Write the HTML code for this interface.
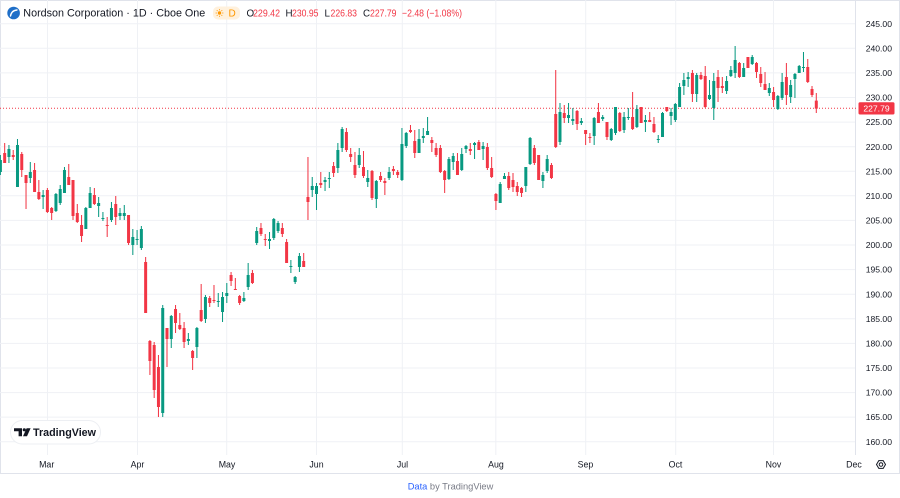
<!DOCTYPE html>
<html><head><meta charset="utf-8">
<style>
html,body{margin:0;padding:0;background:#fff;}
svg{display:block;font-family:"Liberation Sans",sans-serif;}
</style></head>
<body>
<svg width="900" height="498" viewBox="0 0 900 498" xmlns="http://www.w3.org/2000/svg">
<rect x="0" y="0" width="900" height="498" fill="#fff"/>
<!-- frame -->
<rect x="0.5" y="0.5" width="899" height="473" fill="none" stroke="#E0E3EB" stroke-width="1"/>
<!-- grid -->
<g stroke="#EFF1F5" stroke-width="1" fill="none">
<path d="M0 23.7H855M0 48.3H855M0 72.9H855M0 97.5H855M0 122.1H855M0 146.7H855M0 171.2H855M0 195.8H855M0 220.4H855M0 245H855M0 269.6H855M0 294.2H855M0 318.8H855M0 343.4H855M0 368H855M0 392.6H855M0 417.1H855M0 441.7H855"/>
<path d="M47.5 0V455M137.5 0V455M226.7 0V455M316.5 0V455M402.3 0V455M495.8 0V455M585.7 0V455M675.7 0V455M773.5 0V455"/>
</g>
<line x1="855.5" y1="0" x2="855.5" y2="455" stroke="#E0E3EB" stroke-width="1"/>

<!-- last price dotted line -->
<line x1="0" y1="108.3" x2="856" y2="108.3" stroke="#F23645" stroke-width="1" stroke-dasharray="1,2"/>

<!-- candles -->
<g transform="translate(0.4,0) scale(4.2717,1)">
<path fill="#089981" d="M-.35 160h.7V172h-.7zM-.12 155h.24V175h-.24zM1.65 149h.7V157h-.7zM1.88 145h.24V163h-.24zM3.65 145h.7V187h-.7zM3.88 139h.24V187h-.24zM6.65 172h.7V178h-.7zM6.88 162h.24V183h-.24zM9.65 195h.7V197h-.7zM9.88 190h.24V209h-.24zM12.65 194h.7V211h-.7zM12.88 193h.24V212h-.24zM13.65 189h.7V203h-.7zM13.88 185h.24V205h-.24zM14.65 170h.7V193h-.7zM14.88 167h.24V193h-.24zM19.65 208h.7V229h-.7zM19.88 207h.24V229h-.24zM20.65 193h.7V208h-.7zM20.88 187h.24V208h-.24zM22.65 203h.7V206h-.7zM22.88 197h.24V217h-.24zM23.65 218h.7V219h-.7zM23.88 212h.24V221h-.24zM25.65 208h.7V220h-.7zM25.88 202h.24V222h-.24zM27.65 213h.7V216h-.7zM27.88 208h.24V220h-.24zM28.65 213h.7V216h-.7zM28.88 205h.24V220h-.24zM30.65 237h.7V245h-.7zM30.88 229h.24V255h-.24zM31.65 239h.7V240h-.7zM31.88 230h.24V245h-.24zM32.65 229h.7V248h-.7zM32.88 226h.24V250h-.24zM37.65 308h.7V413h-.7zM37.88 305h.24V417h-.24zM39.65 316h.7V339h-.7zM39.88 315h.24V348h-.24zM43.65 339h.7V341h-.7zM43.88 333h.24V345h-.24zM45.65 328h.7V347h-.7zM45.88 327h.24V358h-.24zM47.65 297h.7V319h-.7zM47.88 295h.24V323h-.24zM50.65 301h.7V302h-.7zM50.88 293h.24V307h-.24zM51.65 297h.7V312h-.7zM51.88 292h.24V322h-.24zM52.65 293h.7V296h-.7zM52.88 283h.24V303h-.24zM56.65 298h.7V301h-.7zM56.88 292h.24V302h-.24zM57.65 275h.7V287h-.7zM57.88 263h.24V290h-.24zM59.65 231h.7V243h-.7zM59.88 227h.24V245h-.24zM62.65 239h.7V241h-.7zM62.88 232h.24V249h-.24zM63.65 219h.7V238h-.7zM63.88 218h.24V240h-.24zM64.65 223h.7V231h-.7zM64.88 221h.24V233h-.24zM67.65 266h.7V267h-.7zM67.88 260h.24V273h-.24zM68.65 277h.7V282h-.7zM68.88 276h.24V284h-.24zM69.65 256h.7V267h-.7zM69.88 253h.24V272h-.24zM72.65 186h.7V190h-.7zM72.88 177h.24V197h-.24zM73.65 186h.7V194h-.7zM73.88 183h.24V210h-.24zM75.65 180h.7V182h-.7zM75.88 177h.24V191h-.24zM76.65 178h.7V179h-.7zM76.88 172h.24V188h-.24zM78.65 150h.7V168h-.7zM78.88 143h.24V173h-.24zM79.65 129h.7V148h-.7zM79.88 127h.24V152h-.24zM83.65 155h.7V165h-.7zM83.88 148h.24V168h-.24zM85.65 178h.7V182h-.7zM85.88 170h.24V187h-.24zM87.65 181h.7V199h-.7zM87.88 180h.24V208h-.24zM90.65 172h.7V178h-.7zM90.88 167h.24V180h-.24zM93.65 144h.7V180h-.7zM93.88 128h.24V181h-.24zM94.65 133h.7V146h-.7zM94.88 132h.24V148h-.24zM97.65 139h.7V153h-.7zM97.88 129h.24V153h-.24zM98.65 136h.7V138h-.7zM98.88 128h.24V143h-.24zM99.65 131h.7V135h-.7zM99.88 117h.24V135h-.24zM104.65 159h.7V179h-.7zM104.88 157h.24V180h-.24zM105.65 156h.7V162h-.7zM105.88 153h.24V170h-.24zM107.65 154h.7V170h-.7zM107.88 148h.24V171h-.24zM108.65 146h.7V149h-.7zM108.88 145h.24V153h-.24zM110.65 143h.7V145h-.7zM110.88 142h.24V159h-.24zM112.65 146h.7V149h-.7zM112.88 142h.24V160h-.24zM116.65 184h.7V203h-.7zM116.88 182h.24V203h-.24zM117.65 176h.7V179h-.7zM117.88 173h.24V179h-.24zM122.65 167h.7V186h-.7zM122.88 167h.24V192h-.24zM123.65 138h.7V164h-.7zM123.88 137h.24V165h-.24zM126.65 175h.7V181h-.7zM126.88 172h.24V188h-.24zM127.65 159h.7V171h-.7zM127.88 155h.24V173h-.24zM130.65 112h.7V142h-.7zM130.88 103h.24V145h-.24zM132.65 115h.7V118h-.7zM132.88 103h.24V123h-.24zM133.65 119h.7V121h-.7zM133.88 108h.24V125h-.24zM135.65 121h.7V123h-.7zM135.88 118h.24V125h-.24zM138.65 118h.7V136h-.7zM138.88 117h.24V145h-.24zM140.65 117h.7V119h-.7zM140.88 115h.24V121h-.24zM142.65 129h.7V140h-.7zM142.88 128h.24V141h-.24zM143.65 107h.7V133h-.7zM143.88 107h.24V135h-.24zM145.65 117h.7V130h-.7zM145.88 112h.24V133h-.24zM146.65 117h.7V118h-.7zM146.88 108h.24V120h-.24zM148.65 109h.7V127h-.7zM148.88 105h.24V128h-.24zM150.65 120h.7V122h-.7zM150.88 115h.24V132h-.24zM153.65 139h.7V140h-.7zM153.88 135h.24V143h-.24zM154.65 113h.7V137h-.7zM154.88 112h.24V137h-.24zM156.65 112h.7V116h-.7zM156.88 108h.24V125h-.24zM157.65 104h.7V120h-.7zM157.88 103h.24V122h-.24zM158.65 87h.7V107h-.7zM158.88 83h.24V107h-.24zM159.65 80h.7V86h-.7zM159.88 73h.24V95h-.24zM160.65 77h.7V79h-.7zM160.88 72h.24V87h-.24zM162.65 75h.7V94h-.7zM162.88 73h.24V102h-.24zM165.65 95h.7V99h-.7zM165.88 80h.24V100h-.24zM166.65 81h.7V108h-.7zM166.88 73h.24V120h-.24zM169.65 81h.7V91h-.7zM169.88 76h.24V94h-.24zM170.65 70h.7V76h-.7zM170.88 66h.24V77h-.24zM171.65 60h.7V73h-.7zM171.88 46h.24V78h-.24zM173.65 68h.7V77h-.7zM173.88 63h.24V77h-.24zM175.65 57h.7V64h-.7zM175.88 55h.24V65h-.24zM179.65 88h.7V93h-.7zM179.88 83h.24V96h-.24zM181.65 96h.7V109h-.7zM181.88 95h.24V110h-.24zM182.65 82h.7V98h-.7zM182.88 73h.24V100h-.24zM184.65 85h.7V97h-.7zM184.88 80h.24V103h-.24zM185.65 74h.7V79h-.7zM185.88 73h.24V98h-.24zM186.65 66h.7V73h-.7zM186.88 65h.24V73h-.24zM187.65 67h.7V68h-.7zM187.88 52h.24V72h-.24z"/>
<path fill="#F23645" d="M.65 153h.7V163h-.7zM.88 143h.24V163h-.24zM2.65 155h.7V157h-.7zM2.88 150h.24V160h-.24zM4.65 154h.7V170h-.7zM4.88 152h.24V177h-.24zM5.65 175h.7V183h-.7zM5.88 175h.24V209h-.24zM7.65 170h.7V192h-.7zM7.88 163h.24V192h-.24zM8.65 192h.7V199h-.7zM8.88 180h.24V200h-.24zM10.65 190h.7V212h-.7zM10.88 188h.24V213h-.24zM11.65 208h.7V213h-.7zM11.88 207h.24V220h-.24zM15.65 177h.7V185h-.7zM15.88 164h.24V185h-.24zM16.65 180h.7V216h-.7zM16.88 180h.24V220h-.24zM17.65 213h.7V222h-.7zM17.88 204h.24V223h-.24zM18.65 225h.7V236h-.7zM18.88 215h.24V242h-.24zM21.65 195h.7V204h-.7zM21.88 188h.24V205h-.24zM24.65 225h.7V226h-.7zM24.88 217h.24V237h-.24zM26.65 204h.7V217h-.7zM26.88 196h.24V225h-.24zM29.65 215h.7V243h-.7zM29.88 215h.24V245h-.24zM33.65 262h.7V313h-.7zM33.88 257h.24V313h-.24zM34.65 341h.7V361h-.7zM34.88 340h.24V375h-.24zM35.65 345h.7V390h-.7zM35.88 342h.24V398h-.24zM36.65 367h.7V407h-.7zM36.88 355h.24V417h-.24zM38.65 328h.7V339h-.7zM38.88 328h.24V367h-.24zM40.65 309h.7V323h-.7zM40.88 305h.24V333h-.24zM41.65 325h.7V329h-.7zM41.88 313h.24V330h-.24zM42.65 328h.7V342h-.7zM42.88 322h.24V348h-.24zM44.65 351h.7V358h-.7zM44.88 350h.24V370h-.24zM46.65 310h.7V321h-.7zM46.88 284h.24V322h-.24zM48.65 298h.7V303h-.7zM48.88 296h.24V307h-.24zM49.65 300h.7V301h-.7zM49.88 285h.24V303h-.24zM53.65 275h.7V281h-.7zM53.88 272h.24V286h-.24zM54.65 289h.7V290h-.7zM54.88 278h.24V290h-.24zM55.65 296h.7V303h-.7zM55.88 295h.24V305h-.24zM58.65 273h.7V283h-.7zM58.88 270h.24V284h-.24zM60.65 228h.7V234h-.7zM60.88 223h.24V236h-.24zM61.65 239h.7V240h-.7zM61.88 234h.24V246h-.24zM65.65 228h.7V234h-.7zM65.88 223h.24V237h-.24zM66.65 242h.7V263h-.7zM66.88 239h.24V263h-.24zM70.65 261h.7V267h-.7zM70.88 253h.24V267h-.24zM71.65 197h.7V202h-.7zM71.88 157h.24V220h-.24zM74.65 183h.7V185h-.7zM74.88 172h.24V188h-.24zM77.65 166h.7V173h-.7zM77.88 162h.24V177h-.24zM80.65 132h.7V150h-.7zM80.88 128h.24V152h-.24zM81.65 154h.7V157h-.7zM81.88 148h.24V162h-.24zM82.65 165h.7V175h-.7zM82.88 152h.24V178h-.24zM84.65 167h.7V176h-.7zM84.88 151h.24V178h-.24zM86.65 171h.7V198h-.7zM86.88 170h.24V200h-.24zM88.65 176h.7V180h-.7zM88.88 172h.24V182h-.24zM89.65 181h.7V183h-.7zM89.88 178h.24V195h-.24zM91.65 169h.7V171h-.7zM91.88 166h.24V175h-.24zM92.65 172h.7V175h-.7zM92.88 170h.24V178h-.24zM95.65 130h.7V132h-.7zM95.88 125h.24V133h-.24zM96.65 141h.7V153h-.7zM96.88 130h.24V158h-.24zM100.65 140h.7V143h-.7zM100.88 137h.24V152h-.24zM101.65 148h.7V155h-.7zM101.88 143h.24V157h-.24zM102.65 148h.7V172h-.7zM102.88 145h.24V173h-.24zM103.65 171h.7V180h-.7zM103.88 170h.24V193h-.24zM106.65 161h.7V175h-.7zM106.88 153h.24V175h-.24zM109.65 149h.7V151h-.7zM109.88 143h.24V155h-.24zM111.65 142h.7V150h-.7zM111.88 140h.24V150h-.24zM113.65 147h.7V168h-.7zM113.88 143h.24V170h-.24zM114.65 168h.7V177h-.7zM114.88 157h.24V178h-.24zM115.65 194h.7V201h-.7zM115.88 193h.24V210h-.24zM118.65 176h.7V188h-.7zM118.88 172h.24V190h-.24zM119.65 180h.7V187h-.7zM119.88 173h.24V192h-.24zM120.65 186h.7V192h-.7zM120.88 182h.24V196h-.24zM121.65 188h.7V193h-.7zM121.88 187h.24V197h-.24zM124.65 148h.7V163h-.7zM124.88 145h.24V165h-.24zM125.65 155h.7V180h-.7zM125.88 155h.24V180h-.24zM128.65 165h.7V178h-.7zM128.88 163h.24V179h-.24zM129.65 114h.7V147h-.7zM129.88 70h.24V148h-.24zM131.65 113h.7V118h-.7zM131.88 105h.24V123h-.24zM134.65 111h.7V124h-.7zM134.88 110h.24V130h-.24zM136.65 130h.7V134h-.7zM136.88 130h.24V145h-.24zM137.65 137h.7V138h-.7zM137.88 133h.24V143h-.24zM139.65 112h.7V123h-.7zM139.88 103h.24V123h-.24zM141.65 122h.7V137h-.7zM141.88 122h.24V140h-.24zM144.65 113h.7V131h-.7zM144.88 112h.24V132h-.24zM147.65 117h.7V129h-.7zM147.88 92h.24V130h-.24zM149.65 107h.7V123h-.7zM149.88 107h.24V123h-.24zM151.65 120h.7V122h-.7zM151.88 112h.24V122h-.24zM152.65 124h.7V132h-.7zM152.88 117h.24V133h-.24zM155.65 107h.7V111h-.7zM155.88 107h.24V112h-.24zM161.65 73h.7V94h-.7zM161.88 70h.24V102h-.24zM163.65 75h.7V79h-.7zM163.88 72h.24V80h-.24zM164.65 76h.7V107h-.7zM164.88 66h.24V108h-.24zM167.65 77h.7V88h-.7zM167.88 70h.24V102h-.24zM168.65 86h.7V88h-.7zM168.88 77h.24V93h-.24zM172.65 63h.7V77h-.7zM172.88 62h.24V78h-.24zM174.65 57h.7V68h-.7zM174.88 57h.24V68h-.24zM176.65 63h.7V72h-.7zM176.88 62h.24V78h-.24zM177.65 74h.7V83h-.7zM177.88 67h.24V87h-.24zM178.65 84h.7V90h-.7zM178.88 72h.24V90h-.24zM180.65 92h.7V100h-.7zM180.88 87h.24V107h-.24zM183.65 77h.7V95h-.7zM183.88 63h.24V105h-.24zM188.65 67h.7V82h-.7zM188.88 59h.24V83h-.24zM189.65 89h.7V95h-.7zM189.88 86h.24V97h-.24zM190.65 100.6h.7V108.6h-.7zM190.88 93h.24V113h-.24z"/>
</g>

<!-- price axis labels -->
<g font-size="8.6" fill="#131722" text-anchor="end">
<text x="892" y="26.8">245.00</text>
<text x="892" y="51.4">240.00</text>
<text x="892" y="76">235.00</text>
<text x="892" y="100.6">230.00</text>
<text x="892" y="125.2">225.00</text>
<text x="892" y="149.8">220.00</text>
<text x="892" y="174.3">215.00</text>
<text x="892" y="198.9">210.00</text>
<text x="892" y="223.5">205.00</text>
<text x="892" y="248.1">200.00</text>
<text x="892" y="272.7">195.00</text>
<text x="892" y="297.3">190.00</text>
<text x="892" y="321.9">185.00</text>
<text x="892" y="346.5">180.00</text>
<text x="892" y="371.1">175.00</text>
<text x="892" y="395.7">170.00</text>
<text x="892" y="420.2">165.00</text>
<text x="892" y="444.8">160.00</text>
</g>
<!-- last price label -->
<rect x="858.5" y="102.3" width="36" height="12.2" rx="1.5" fill="#F23645"/>
<text x="876.5" y="111.5" font-size="8.6" fill="#fff" text-anchor="middle">227.79</text>

<!-- time axis labels -->
<g font-size="8.8" fill="#131722" text-anchor="middle">
<text x="46.7" y="467.5">Mar</text>
<text x="137.5" y="467.5">Apr</text>
<text x="227" y="467.5">May</text>
<text x="316.5" y="467.5">Jun</text>
<text x="402.5" y="467.5">Jul</text>
<text x="496" y="467.5">Aug</text>
<text x="585.5" y="467.5">Sep</text>
<text x="675.5" y="467.5">Oct</text>
<text x="773.5" y="467.5">Nov</text>
<text x="854" y="467.5">Dec</text>
</g>
<!-- gear icon -->
<g fill="none" stroke="#131722" stroke-width="1">
<polygon points="885.5,464.5 883.2,468.4 878.8,468.4 876.5,464.5 878.8,460.6 883.2,460.6"/>
<circle cx="881" cy="464.5" r="1.8"/>
</g>

<!-- header -->
<circle cx="13.6" cy="13" r="6.3" fill="#1F6FC8"/>
<path d="M10.5 16 Q11.5 10.5 17 10" fill="none" stroke="#fff" stroke-width="1.4" stroke-linecap="round"/>
<text x="23.3" y="16.6" font-size="11" fill="#131722" textLength="182" lengthAdjust="spacingAndGlyphs">Nordson Corporation · 1D · Cboe One</text>
<rect x="213" y="6.5" width="27" height="13" rx="5" fill="#FFF1DD"/>
<g stroke="#FF9800" stroke-width="0.9">
<path d="M219.5 9.2V10.2M219.5 15.8V16.8M215.7 13H216.7M222.3 13H223.3M216.8 10.3L217.5 11M221.5 15L222.2 15.7M216.8 15.7L217.5 15M221.5 11L222.2 10.3"/>
</g>
<circle cx="219.5" cy="13" r="1.7" fill="#FF9800"/>
<text x="228.5" y="16.5" font-size="10" fill="#FF9800">D</text>
<g font-size="9.8">
<text x="246.5" y="16.6" fill="#131722">O</text>
<text x="253" y="16.6" fill="#F23645" textLength="27" lengthAdjust="spacingAndGlyphs">229.42</text>
<text x="285.5" y="16.6" fill="#131722">H</text>
<text x="292" y="16.6" fill="#F23645" textLength="26.5" lengthAdjust="spacingAndGlyphs">230.95</text>
<text x="324.5" y="16.6" fill="#131722">L</text>
<text x="330.5" y="16.6" fill="#F23645" textLength="26.5" lengthAdjust="spacingAndGlyphs">226.83</text>
<text x="363" y="16.6" fill="#131722">C</text>
<text x="370" y="16.6" fill="#F23645" textLength="26.5" lengthAdjust="spacingAndGlyphs">227.79</text>
<text x="402" y="16.6" fill="#F23645" textLength="60" lengthAdjust="spacingAndGlyphs">−2.48 (−1.08%)</text>
</g>

<!-- TradingView badge -->
<rect x="10.5" y="420.5" width="90" height="23.5" rx="11.75" fill="#fff" stroke="#EDEFF3" stroke-width="1"/>
<g fill="#131722">
<path d="M14 428.2H22V436.2H18.6V431.2H14Z"/>
<circle cx="24.3" cy="429.8" r="1.6"/>
<path d="M26.6 428.2H30.6L27 436.2H23Z"/>
</g>
<text x="33" y="436" font-size="11" font-weight="bold" fill="#131722" textLength="63" lengthAdjust="spacingAndGlyphs">TradingView</text>

<!-- footer -->
<text x="450.5" y="489.5" font-size="9.3" text-anchor="middle" fill="#787B86"><tspan fill="#2962FF">Data</tspan> by TradingView</text>
</svg>
</body></html>
